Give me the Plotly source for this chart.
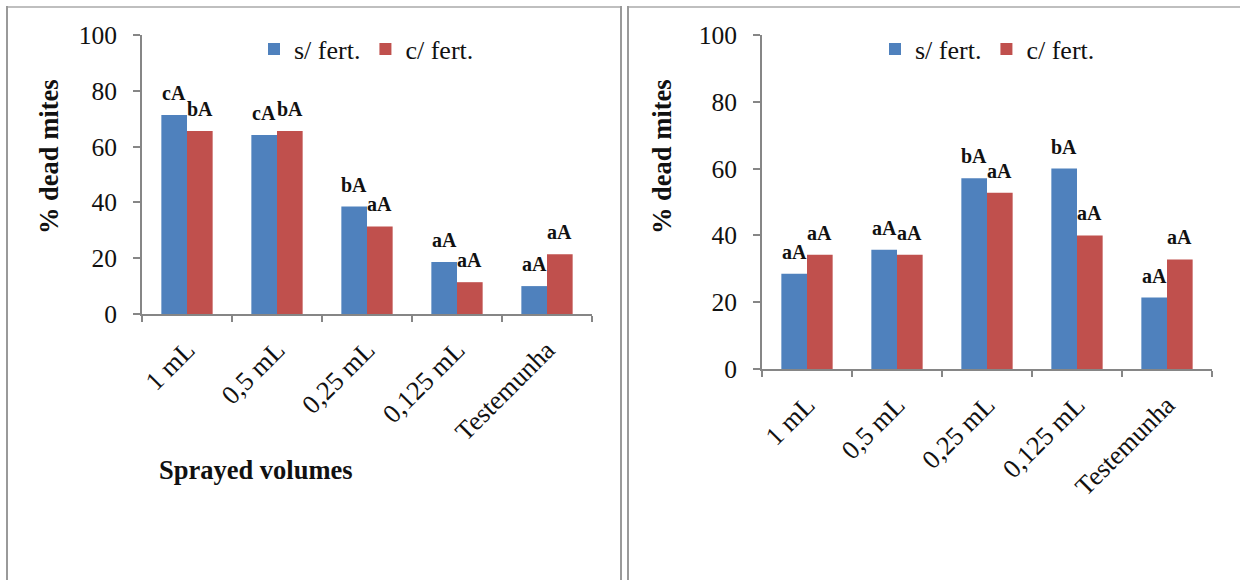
import plotly.graph_objects as go

W, H = 1240, 580

categories = ["1 mL", "0,5 mL", "0,25 mL", "0,125 mL", "Testemunha"]
series_names = ["s/ fert.", "c/ fert."]
colors = ["#4F81BD", "#C0504D"]

# Left chart
left_s = [71.3, 64.2, 38.5, 18.6, 10.0]
left_c = [65.6, 65.6, 31.4, 11.4, 21.4]
left_s_labels = ["cA", "cA", "bA", "aA", "aA"]
left_c_labels = ["bA", "bA", "aA", "aA", "aA"]

# Right chart
right_s = [28.5, 35.7, 57.1, 60.0, 21.4]
right_c = [34.2, 34.2, 52.8, 40.0, 32.8]
right_s_labels = ["aA", "aA", "bA", "bA", "aA"]
right_c_labels = ["aA", "aA", "aA", "aA", "aA"]

y_title = "% dead mites"
x_title = "Sprayed volumes"

FONT = "Liberation Serif, Times New Roman, serif"
AXC = "#868686"

def px(p):
    return p / W

def py(p):
    return 1 - p / H

fig = go.Figure()

panels = [
    ("x", "y", "legend", left_s, left_c, left_s_labels, left_c_labels),
    ("x2", "y2", "legend2", right_s, right_c, right_s_labels, right_c_labels),
]

annotations = []
BAR_HALF = 12.9
for xa, ya, lg, s_vals, c_vals, s_lab, c_lab in panels:
    for name, vals, col in zip(series_names, [s_vals, c_vals], colors):
        fig.add_trace(go.Bar(
            x=categories, y=vals, name=name, marker_color=col,
            marker_line_width=0, xaxis=xa, yaxis=ya, legend=lg,
            hoverinfo="x+y+name",
        ))
    for vals, labs, sh in [(s_vals, s_lab, -BAR_HALF), (c_vals, c_lab, BAR_HALF)]:
        for cat, v, t in zip(categories, vals, labs):
            annotations.append(dict(
                x=cat, y=v, xref=xa, yref=ya, text="<b>%s</b>" % t,
                showarrow=False, xshift=sh, yshift=22,
                xanchor="center", yanchor="middle",
                font=dict(family=FONT, size=20, color="#111111"),
            ))

# axis titles as annotations
tfont = dict(family=FONT, size=26.5, color="#111111")
annotations.append(dict(x=px(49), y=py(156), xref="paper", yref="paper",
                        xanchor="center", yanchor="middle",
                        text="<b>%s</b>" % y_title, textangle=-90, showarrow=False,
                        font=tfont))
annotations.append(dict(x=px(662), y=py(156), xref="paper", yref="paper",
                        xanchor="center", yanchor="middle",
                        text="<b>%s</b>" % y_title, textangle=-90, showarrow=False,
                        font=tfont))
annotations.append(dict(x=px(256), y=py(470), xref="paper", yref="paper",
                        xanchor="center", yanchor="middle",
                        text="<b>%s</b>" % x_title, showarrow=False,
                        font=tfont))

xcommon = dict(type="category", showline=True, linecolor=AXC, linewidth=2,
               ticks="outside", tickson="boundaries", ticklen=6, tickcolor=AXC,
               tickwidth=2, tickangle=-45, showgrid=False, zeroline=False,
               tickfont=dict(family=FONT, size=26.5, color="#111111"),
               ticklabelstandoff=8, fixedrange=True, automargin=False)
ycommon = dict(range=[0, 100], dtick=20, showline=True, linecolor=AXC, linewidth=2,
               ticks="outside", ticklen=7, tickcolor=AXC, tickwidth=2,
               showgrid=False, zeroline=False,
               tickfont=dict(family=FONT, size=25.5, color="#111111"),
               ticklabelstandoff=11, fixedrange=True, automargin=False)

legcommon = dict(orientation="h", bgcolor="rgba(0,0,0,0)", xanchor="left",
                 yanchor="middle", font=dict(family=FONT, size=26, color="#111111"),
                 itemwidth=30, traceorder="normal")

shapes = [
    # left panel frame
    dict(type="line", xref="paper", yref="paper", x0=px(6), x1=px(621), y0=py(7), y1=py(7),
         line=dict(color="#BFBFBF", width=2)),
    dict(type="line", xref="paper", yref="paper", x0=px(7), x1=px(7), y0=py(6), y1=py(590),
         line=dict(color="#9A9A9A", width=2)),
    dict(type="line", xref="paper", yref="paper", x0=px(621), x1=px(621), y0=py(6), y1=py(590),
         line=dict(color="#9A9A9A", width=2)),
    # right panel frame
    dict(type="line", xref="paper", yref="paper", x0=px(627), x1=px(1250), y0=py(7), y1=py(7),
         line=dict(color="#BFBFBF", width=2)),
    dict(type="line", xref="paper", yref="paper", x0=px(628), x1=px(628), y0=py(6), y1=py(590),
         line=dict(color="#9A9A9A", width=2)),
]

fig.update_layout(
    template="none",
    width=W, height=H, margin=dict(l=0, r=0, t=0, b=0, autoexpand=False),
    paper_bgcolor="white", plot_bgcolor="white",
    barmode="group", bargap=0.43, bargroupgap=0,
    font=dict(family=FONT, color="#111111"),
    xaxis=dict(domain=[px(142), px(592)], anchor="y", **xcommon),
    yaxis=dict(domain=[py(314), py(35)], anchor="x", **ycommon),
    xaxis2=dict(domain=[px(762), px(1212)], anchor="y2", **xcommon),
    yaxis2=dict(domain=[py(369), py(35)], anchor="x2", **ycommon),
    legend=dict(x=px(254), y=py(49), **legcommon),
    legend2=dict(x=px(875), y=py(49), **legcommon),
    annotations=annotations,
    shapes=shapes,
)

fig.write_html("out.html", config={"displayModeBar": False},
               post_script="document.body.style.margin='0';")
